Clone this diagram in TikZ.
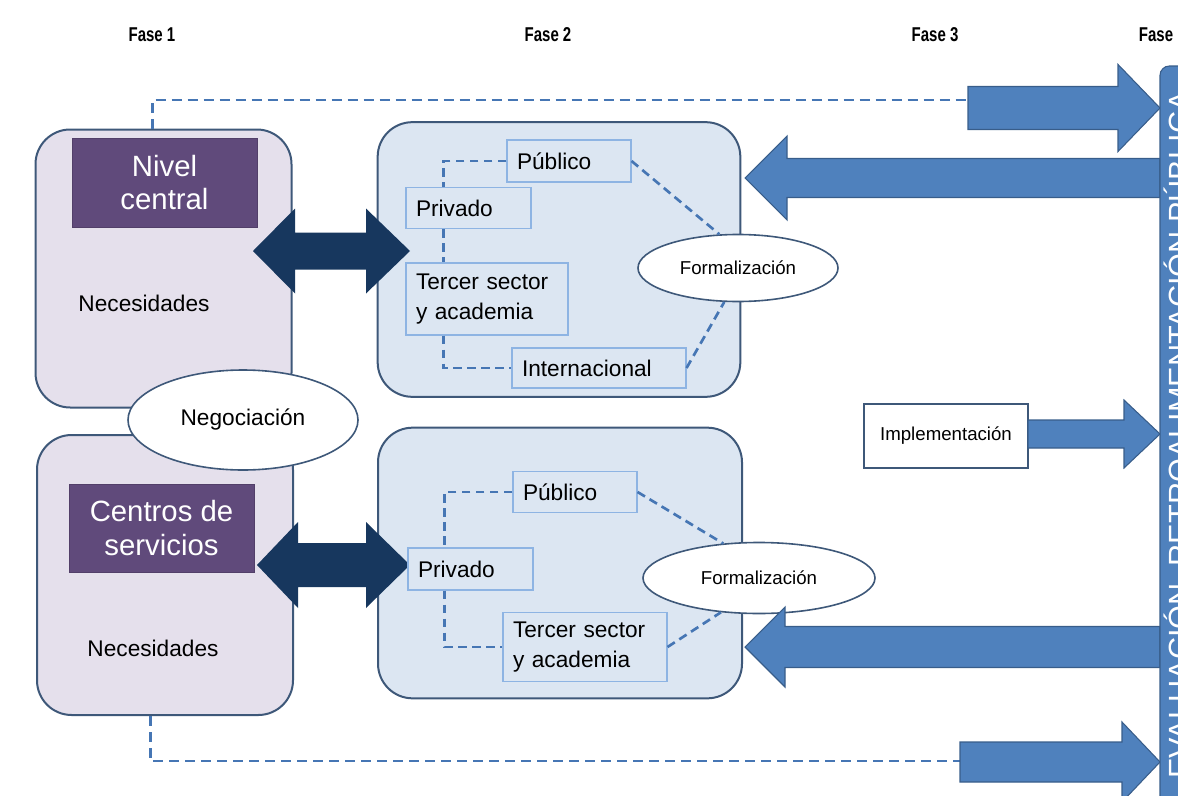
\documentclass[tikz,border=0pt]{standalone}
\usepackage{fontspec}
\setmainfont{Liberation Sans}
\newfontfamily\narrowfont{Liberation Sans}[FakeStretch=0.75]
\usetikzlibrary{shapes.geometric}
\definecolor{lavfill}{HTML}{E5E0EC}
\definecolor{boxborder}{HTML}{3E5879}
\definecolor{purp}{HTML}{604A7B}
\definecolor{bluefill}{HTML}{DCE6F2}
\definecolor{smallborder}{HTML}{8EB4E3}
\definecolor{dashblue}{HTML}{4676B4}
\definecolor{navy}{HTML}{17375E}
\definecolor{arrowblue}{HTML}{4F81BD}
\definecolor{arrowborder}{HTML}{385D8A}
\begin{document}
\begin{tikzpicture}[x=0.75pt,y=-0.75pt,
  fase/.style={font=\narrowfont\bfseries\fontsize{15}{17}\selectfont, inner sep=0},
  bigbox/.style={draw=boxborder, line width=1.5pt, rounded corners=26pt, inner sep=0},
  purplebox/.style={fill=purp, draw=purp!85!black, text=white, align=center, inner sep=0,
    font=\fontsize{22}{25}\selectfont},
  plaintext/.style={font=\fontsize{17}{21}\selectfont, inner sep=0},
  smallbox/.style={draw=smallborder, fill=bluefill, line width=0.8pt, align=left,
    inner xsep=7.5pt, inner ysep=0, font=\fontsize{17}{22.5}\selectfont},
  oval/.style={ellipse, draw=boxborder, fill=white, line width=1.2pt, inner sep=0},
  innerdash/.style={draw=dashblue, line width=2pt, dash pattern=on 6.5pt off 4pt},
  outerdash/.style={draw=dashblue, line width=2.2pt, dash pattern=on 7.5pt off 4.5pt},
  navyarrow/.style={fill=navy},
  bluearrow/.style={fill=arrowblue, draw=arrowborder, line width=0.8pt},
  implbox/.style={draw=boxborder, fill=white, line width=1.4pt, inner sep=0,
    font=\fontsize{14}{17}\selectfont}
]
\useasboundingbox (0,0) rectangle (1178,796);
\clip (0,0) rectangle (1178,796);

% phase labels
\node[fase] (f1) at (152,35) {Fase 1};
\node[fase] (f2) at (548,35) {Fase 2};
\node[fase] (f3) at (935,35) {Fase 3};
\node[fase] (f4) at (1156,35) {Fase};

% left boxes
\node[bigbox, fill=lavfill, minimum width=192pt, minimum height=208.5pt] (L1) at (163.5,268.5) {};
\node[bigbox, fill=lavfill, minimum width=192pt, minimum height=210pt] (L2) at (165,575) {};
\node[purplebox, minimum width=138.75pt, minimum height=66.75pt] (P1) at (164.5,182.5) {Nivel\\central};
\node[purplebox, minimum width=138.75pt, minimum height=66pt] (P2) at (161.5,528) {Centros de\\servicios};
\node[plaintext] (N1) at (144,303) {Necesidades};
\node[plaintext] (N2) at (153,648) {Necesidades};

% middle boxes
\node[bigbox, fill=bluefill, minimum width=272pt, minimum height=206pt] (M1) at (559,259.5) {};
\node[bigbox, fill=bluefill, minimum width=273pt, minimum height=203pt] (M2) at (560,563) {};

% navy double arrows
\fill[navyarrow] (253,251) -- (295,208.5) -- (295,232.5) -- (366,232.5) -- (366,208.5) -- (410,251)
  -- (366,293.5) -- (366,269.5) -- (295,269.5) -- (295,293.5) -- cycle;
\fill[navyarrow] (257,565) -- (298,522) -- (298,543) -- (366,543) -- (366,522) -- (410,565)
  -- (366,608) -- (366,587) -- (298,587) -- (298,608) -- cycle;

% small boxes, top
\node[smallbox, text width=78pt, minimum height=31.5pt] (pub1) at (569,161) {Público};
\node[smallbox, text width=78.75pt, minimum height=30.75pt] (priv1) at (468.5,208) {Privado};
\node[smallbox, text width=106.5pt, minimum height=54pt] (ter1) at (487,299) {Tercer sector\\y academia};
\node[smallbox, text width=115.5pt, minimum height=30pt] (int1) at (599,368) {Internacional};
% small boxes, bottom
\node[smallbox, text width=78pt, minimum height=30.75pt] (pub2) at (575,492) {Público};
\node[smallbox, text width=78.75pt, minimum height=31.5pt] (priv2) at (470.5,569) {Privado};
\node[smallbox, text width=108pt, minimum height=51.75pt] (ter2) at (585,647) {Tercer sector\\y academia};

% ellipses
\node[oval, minimum width=150pt, minimum height=50.25pt, font=\fontsize{14}{17}\selectfont] (form1) at (738,268) {Formalización};
\node[oval, minimum width=174pt, minimum height=53.25pt, font=\fontsize{14}{17}\selectfont] (form2) at (759,578) {Formalización};
\node[oval, minimum width=172.5pt, minimum height=75pt, font=\fontsize{17}{21}\selectfont] (neg) at (243,420) {Negociación};

% inner dashed connectors
\draw[innerdash] (pub1.west) -| ([xshift=28.5pt]priv1.north west);
\draw[innerdash] ([xshift=28.5pt]priv1.south west) -- ([xshift=28.5pt]ter1.north west);
\draw[innerdash] ([xshift=28.5pt]ter1.south west) |- (int1.west);
\draw[innerdash] (pub1.east) -- (form1.119);
\draw[innerdash] (int1.east) -- (form1.248);
\draw[innerdash] (pub2.west) -| ([xshift=27.75pt]priv2.north west);
\draw[innerdash] ([xshift=27.75pt]priv2.south west) |- (ter2.west);
\draw[innerdash] (pub2.east) -- (form2.136);
\draw[innerdash] (ter2.east) -- (form2.222);

% implementation
\node[implbox, minimum width=123pt, minimum height=48pt] (impl) at (946,436) {Implementación};

% outer dashed connectors
\coordinate (ta) at (968,100);
\coordinate (ba) at (960,761);
\draw[outerdash] ([xshift=-8.6pt]L1.north) |- (ta);
\draw[outerdash] ([xshift=-11pt]L2.south) |- (ba);

% blue block arrows
\filldraw[bluearrow] (968,86.5) -- (1118,86.5) -- (1118,64.5) -- (1160,108) -- (1118,151.5) -- (1118,129.5) -- (968,129.5) -- cycle;
\filldraw[bluearrow] (1160,158.5) -- (787,158.5) -- (787,136) -- (745,178) -- (787,220) -- (787,197.5) -- (1160,197.5) -- cycle;
\filldraw[bluearrow] (1028,420) -- (1124,420) -- (1124,400) -- (1160,434) -- (1124,468) -- (1124,448) -- (1028,448) -- cycle;
\filldraw[bluearrow] (1160,626.5) -- (785,626.5) -- (785,607) -- (745,647) -- (785,687) -- (785,667.5) -- (1160,667.5) -- cycle;
\filldraw[bluearrow] (960,742) -- (1122,742) -- (1122,722) -- (1160,762) -- (1122,802) -- (1122,782) -- (960,782) -- cycle;

% evaluation bar
\filldraw[fill=arrowblue, draw=arrowborder, line width=0.8pt, rounded corners=7pt] (1160,830) rectangle (1240,66);
\node[rotate=90, anchor=base, text=white, inner sep=0, font=\fontsize{23}{27}\selectfont] (bar) at (1190,435) {EVALUACIÓN, RETROALIMENTACIÓN PÚBLICA};
\end{tikzpicture}
\end{document}
